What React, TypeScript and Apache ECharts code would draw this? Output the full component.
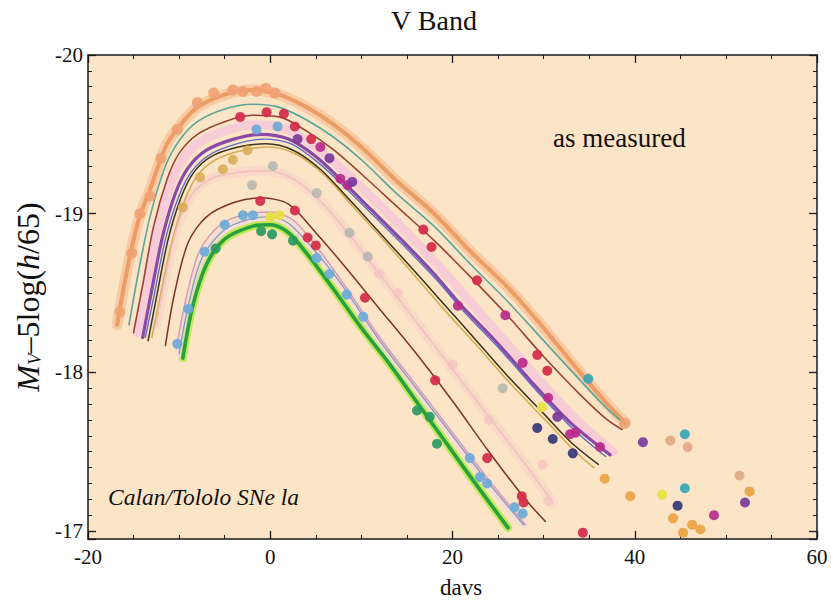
import React, { useEffect, useRef } from 'react';
import * as echarts from 'echarts';

// ---- axis ticks ----
const xTickValues = [-20, 0, 20, 40, 60];
const yTickValues = [-20, -19, -18, -17];

// ---- light-curve template fits: [days, M_V - 5log(h/65)] ----
const orangeCurve = [[-16.8,-18.30],[-15.8,-18.62],[-14.5,-18.95],[-13.2,-19.15],[-11.5,-19.42],[-10,-19.55],[-8,-19.67],[-5,-19.75],[-2,-19.78],[1,-19.75],[4,-19.67],[7,-19.56],[10,-19.42],[14,-19.20],[18,-19.00],[22,-18.76],[26,-18.54],[30,-18.28],[34,-18.00],[37,-17.80],[39,-17.68]];
const tealCurve = [[-15.5,-18.30],[-14.5,-18.62],[-13.2,-18.98],[-11.5,-19.30],[-10,-19.46],[-8,-19.58],[-5,-19.66],[-2,-19.69],[1,-19.67],[4,-19.59],[7,-19.48],[10,-19.34],[14,-19.12],[18,-18.92],[22,-18.68],[26,-18.45],[30,-18.20],[34,-17.95],[37,-17.77],[39,-17.67]];
const brownTopCurve = [[-15,-18.25],[-14,-18.55],[-12.8,-18.92],[-11.3,-19.22],[-10,-19.38],[-8,-19.50],[-5,-19.58],[-2,-19.62],[1,-19.61],[4,-19.52],[7,-19.40],[10,-19.25],[14,-19.04],[18,-18.83],[22,-18.60],[26,-18.36],[30,-18.10],[34,-17.86],[37,-17.70],[38.6,-17.64]];
const pinkWideCurve = [[-14.6,-18.25],[-13.6,-18.55],[-12.4,-18.90],[-11,-19.18],[-9.5,-19.35],[-7.5,-19.46],[-4.5,-19.53],[-1.5,-19.56],[1.5,-19.54],[4.5,-19.44],[7.5,-19.30],[10.5,-19.14],[14,-18.94],[18,-18.70],[22,-18.44],[26,-18.18],[30,-17.92],[34,-17.68],[37.6,-17.50]];
const purpleCurve = [[-14,-18.22],[-13,-18.52],[-11.8,-18.86],[-10.4,-19.13],[-9,-19.29],[-7,-19.40],[-4,-19.47],[-1,-19.50],[2,-19.47],[5,-19.36],[8,-19.20],[11,-19.03],[14.5,-18.83],[18,-18.62],[21,-18.42],[25,-18.18],[29,-17.92],[33,-17.68],[37.3,-17.48]];
const blueCurve = [[-13.7,-18.22],[-12.7,-18.50],[-11.5,-18.84],[-10.1,-19.10],[-8.7,-19.26],[-6.7,-19.37],[-3.7,-19.44],[-0.7,-19.47],[2.3,-19.44],[5.3,-19.32],[8.3,-19.16],[11.3,-18.99],[14.8,-18.79],[18.3,-18.58],[21.3,-18.38],[25.3,-18.14],[29.3,-17.88],[33.3,-17.64],[36.8,-17.47]];
const darkCurve = [[-13.4,-18.20],[-12.4,-18.50],[-11.2,-18.84],[-9.8,-19.10],[-8.4,-19.26],[-6.5,-19.36],[-3.5,-19.42],[-0.5,-19.44],[2.5,-19.40],[5.5,-19.28],[8.5,-19.10],[12,-18.88],[15.5,-18.66],[18.6,-18.46],[22,-18.24],[26,-17.98],[30,-17.74],[33,-17.56],[36,-17.42]];
const yellowCurve = [[-13,-18.22],[-12,-18.50],[-10.8,-18.82],[-9.4,-19.08],[-8,-19.24],[-6,-19.34],[-3,-19.40],[0,-19.42],[3,-19.37],[6,-19.24],[9,-19.05],[12.5,-18.83],[16,-18.60],[19,-18.40],[22.5,-18.18],[26.5,-17.92],[30.5,-17.68],[33.5,-17.50],[35.5,-17.40]];
const paleMidCurve = [[-12.5,-18.30],[-11.5,-18.60],[-10.2,-18.92],[-8.6,-19.12],[-6.5,-19.22],[-3.5,-19.26],[-0.5,-19.27],[2.5,-19.22],[5.5,-19.08],[8.5,-18.88],[12,-18.62],[16,-18.32],[20,-18.02],[24,-17.72],[28,-17.42],[31,-17.18]];
const brownLowCurve = [[-11.5,-18.17],[-10.5,-18.50],[-9,-18.82],[-7,-18.98],[-4,-19.07],[-1,-19.10],[2,-19.06],[5,-18.88],[8,-18.68],[12,-18.40],[16,-18.12],[20,-17.82],[24,-17.50],[28,-17.20],[30.2,-17.06]];
const pinkLowCurve = [[-10.3,-18.15],[-9.3,-18.45],[-7.8,-18.76],[-5.5,-18.93],[-2.5,-19.00],[0,-19.01],[2.5,-18.96],[5.5,-18.76],[8.5,-18.52],[12,-18.22],[16,-17.92],[20,-17.62],[24,-17.32],[28,-17.04]];
const lightBlueCurve = [[-10,-18.12],[-9,-18.42],[-7.5,-18.72],[-5,-18.90],[-2,-18.97],[0,-18.98],[2,-18.94],[5,-18.76],[8,-18.54],[12,-18.20],[16,-17.90],[20,-17.60],[24,-17.30],[27.8,-17.04]];
const greenCurve = [[-9.6,-18.09],[-8.5,-18.42],[-7,-18.68],[-5,-18.84],[-2,-18.92],[0,-18.93],[2,-18.88],[4,-18.75],[7,-18.52],[10,-18.28],[13,-18.06],[16,-17.82],[19,-17.58],[22,-17.34],[26.1,-17.02]];

// ---- observed photometry points ----
const salmonDots = [[-16.5,-18.38],[-15.2,-18.75],[-14.3,-19.0],[-13.2,-19.11],[-12,-19.35],[-10.2,-19.53],[-8,-19.70],[-6.2,-19.76],[-4.1,-19.78],[-3,-19.77],[-1.5,-19.77],[-0.5,-19.79],[0.5,-19.76],[38.9,-17.68]];
const goldDots = [[36.7,-17.33],[39.5,-17.22],[44.2,-17.08],[46.3,-17.04],[47.2,-17.01],[45.3,-16.99],[52.6,-17.25]];
const tanDots = [[43.9,-17.57],[45.8,-17.53],[51.5,-17.35]];
const redDots = [[-3.3,-19.61],[-0.4,-19.64],[1.5,-19.63],[2.7,-19.55],[4.5,-19.47],[16.8,-18.90],[17.7,-18.79],[22.7,-18.58],[29.3,-18.11],[30.4,-18.01],[-1.1,-19.08],[2.7,-19.02],[4.1,-18.85],[5,-18.80],[10.4,-18.47],[18.1,-17.95],[23.8,-17.46],[27.6,-17.22],[27.8,-17.18],[34.3,-16.99]];
const magentaDots = [[5.5,-19.42],[7.7,-19.22],[8.5,-19.18],[20.6,-18.42],[25.8,-18.36],[27.7,-18.06],[30.5,-17.84],[32.9,-17.61],[33.5,-17.62],[36.2,-17.53],[48.7,-17.10]];
const purpleDots = [[3,-19.47],[6.5,-19.35],[9,-19.20],[31.5,-17.72],[40.9,-17.56],[52.1,-17.18]];
const blueDots = [[-1.5,-19.53],[0.8,-19.55],[-10.2,-18.18],[-9,-18.40],[-7.2,-18.76],[-5,-18.93],[-3,-18.99],[-1.9,-18.99],[5.1,-18.72],[6.5,-18.62],[8.4,-18.49],[10.2,-18.35],[21.9,-17.46],[23,-17.34],[23.8,-17.30],[26.8,-17.15],[27.7,-17.11]];
const tealDots = [[45.5,-17.61],[45.5,-17.27],[34.9,-17.96]];
const navyDots = [[29.3,-17.65],[31,-17.58],[33.2,-17.49],[44.7,-17.16]];
const yellowDots = [[0,-18.98],[1,-18.99],[29.8,-17.78],[43,-17.23]];
const ochreDots = [[-9.6,-19.04],[-7.7,-19.23],[-5.2,-19.28],[-4.1,-19.34],[-2.5,-19.40]];
const greenDots = [[-6,-18.78],[-1,-18.89],[0.2,-18.87],[2.5,-18.83],[16.1,-17.76],[17.5,-17.72],[18.3,-17.55]];
const greyDots = [[-2,-19.18],[0.3,-19.30],[5.1,-19.13],[8.7,-18.88],[10.7,-18.73],[25.5,-17.90]];
const palePinkDots = [[12,-18.62],[14,-18.50],[20,-18.05],[24,-17.70],[29.9,-17.42],[30.5,-17.19]];

const SERIF = 'Liberation Serif';

function lineSeries(data: number[][], color: string, width: number, opacity = 1, z = 2) {
  return {
    type: 'line', data, smooth: 0.3, showSymbol: false, symbol: 'none',
    lineStyle: { color, width, opacity, cap: 'round', join: 'round' }, z, silent: true,
  };
}
function dotSeries(data: number[][], color: string, size = 10, opacity = 0.92) {
  return { type: 'scatter', data, symbolSize: size, itemStyle: { color, opacity }, z: 5, silent: true };
}

export default function App() {
  const ref = useRef<HTMLDivElement>(null);
  useEffect(() => {
    if (!ref.current) return;
    const chart = echarts.init(ref.current, null, { renderer: 'svg' });
    const axisLine = { show: true, onZero: false, lineStyle: { color: '#1a1a1a', width: 1.5 } };
    const baseX = {
      type: 'value', min: xTickValues[0], max: xTickValues[xTickValues.length - 1], interval: 20,
      axisLine, splitLine: { show: false },
      axisTick: { show: true, inside: true, length: 8, lineStyle: { color: '#1a1a1a', width: 1.3 } },
      minorTick: { show: true, splitNumber: 4, length: 4, lineStyle: { color: '#1a1a1a', width: 1 } },
    };
    const baseY = {
      type: 'value', min: yTickValues[0], max: -16.95, interval: 1, inverse: true,
      axisLine, splitLine: { show: false },
      axisTick: { show: true, inside: true, length: 8, lineStyle: { color: '#1a1a1a', width: 1.3 } },
      minorTick: { show: true, splitNumber: 10, length: 4, lineStyle: { color: '#1a1a1a', width: 1 } },
    };
    const option: any = {
      animation: false,
      backgroundColor: '#ffffff',
      grid: { left: 88, right: 14, top: 55, bottom: 64, show: true, backgroundColor: '#fce4c6', borderWidth: 0 },
      xAxis: [
        {
          ...baseX, position: 'bottom',
          axisLabel: { fontFamily: SERIF, fontSize: 21, color: '#111', margin: 7 },
        },
        { ...baseX, position: 'top', axisLabel: { show: false } },
      ],
      yAxis: [
        {
          ...baseY, position: 'left',
          name: '{mi|M}{sub|V}{n|–5log(}{mi|h}{n|/65)}', nameLocation: 'middle', nameGap: 40,
          nameTextStyle: {
            fontFamily: SERIF, fontSize: 32, color: '#111',
            rich: {
              mi: { fontFamily: SERIF, fontSize: 32, fontStyle: 'italic', color: '#111' },
              sub: { fontFamily: SERIF, fontSize: 19, fontStyle: 'italic', color: '#111', verticalAlign: 'bottom', padding: [12, 0, 0, 0] },
              n: { fontFamily: SERIF, fontSize: 32, color: '#111' },
            },
          },
          axisLabel: {
            fontFamily: SERIF, fontSize: 21, color: '#111', margin: 5,
            formatter: (v: number) => (yTickValues.includes(v) ? String(v) : ''),
          },
        },
        { ...baseY, position: 'right', axisLabel: { show: false } },
      ],
      graphic: [
        { type: 'text', x: 434, y: 20, style: { text: 'V Band', fontFamily: SERIF, fontSize: 28, fill: '#111', textAlign: 'center', textVerticalAlign: 'middle' } },
        { type: 'text', x: 461, y: 587, style: { text: 'davs', fontFamily: SERIF, fontSize: 23, fill: '#111', textAlign: 'center', textVerticalAlign: 'middle' } },
        { type: 'text', x: 553, y: 138, style: { text: 'as measured', fontFamily: SERIF, fontSize: 27, fill: '#111', textVerticalAlign: 'middle' } },
        { type: 'text', x: 108, y: 497, style: { text: 'Calan/Tololo SNe la', fontFamily: SERIF, fontSize: 23.5, fontStyle: 'italic', fill: '#111', textVerticalAlign: 'middle' } },
      ],
      series: [
        // halos
        lineSeries(orangeCurve, '#f6c49a', 11, 0.8, 1),
        lineSeries(paleMidCurve, '#f7d4cc', 10, 0.6, 1),
        lineSeries(greenCurve, '#b8e848', 8, 0.9, 1),
        lineSeries(pinkWideCurve, '#f6c8d8', 9, 0.85, 1),
        lineSeries(lightBlueCurve, '#f0d8e2', 8, 0.6, 1),
        // lines
        lineSeries(orangeCurve, '#eb9962', 4, 0.95),
        lineSeries(tealCurve, '#5aa598', 1.6),
        lineSeries(brownTopCurve, '#9a4434', 1.6),
        lineSeries(purpleCurve, '#8a48a8', 3.2),
        lineSeries(blueCurve, '#5a6ec2', 1.4),
        lineSeries(yellowCurve, '#d2ae52', 1.6),
        lineSeries(darkCurve, '#3c3218', 1.5),
        lineSeries(paleMidCurve, '#f0bcb6', 2, 0.7),
        lineSeries(brownLowCurve, '#7c3428', 1.5),
        lineSeries(pinkLowCurve, '#d89ab6', 1.5),
        lineSeries(lightBlueCurve, '#8a9cb0', 1.3),
        lineSeries(greenCurve, '#27a040', 3.6),
        // points
        dotSeries(palePinkDots, '#f4c2c0', 10, 0.7),
        dotSeries(greyDots, '#a8b2ac', 10, 0.75),
        dotSeries(salmonDots, '#f0a272', 11, 0.9),
        dotSeries(goldDots, '#e9a342'),
        dotSeries(tanDots, '#e0aa88'),
        dotSeries(ochreDots, '#d8aa56', 10, 0.85),
        dotSeries(redDots, '#d42a48'),
        dotSeries(magentaDots, '#b82a8a'),
        dotSeries(purpleDots, '#7a3a9c'),
        dotSeries(blueDots, '#6aaad8'),
        dotSeries(tealDots, '#38a6b6'),
        dotSeries(navyDots, '#33387a'),
        dotSeries(yellowDots, '#e6e23e'),
        dotSeries(greenDots, '#2a9a60'),
      ],
    };
    chart.setOption(option);
    return () => chart.dispose();
  }, []);
  return <div ref={ref} style={{ position: 'fixed', left: 0, top: 0, width: 831, height: 603 }} />;
}
